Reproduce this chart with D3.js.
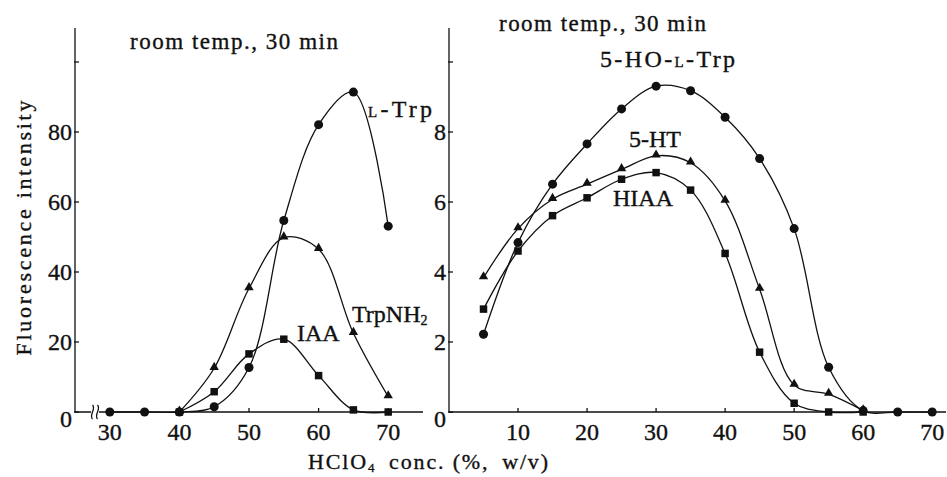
<!DOCTYPE html>
<html>
<head>
<meta charset="utf-8">
<script src="https://cdn.jsdelivr.net/npm/d3@7"></script>
<style>
    html, body { margin: 0; padding: 0; background: #fff; }
    svg { display: block; font-family: "Liberation Serif", "DejaVu Serif", serif; }
    svg text { fill: #111; stroke: #111; stroke-width: 0.35; }
    .line { fill: none; stroke: #111; stroke-width: 1.3; }
    .axis-line { stroke: #111; stroke-width: 1.3; fill: none; }
    .tick-label { font-size: 24px; }
    .note { font-size: 23px; }
    .series-label { font-size: 24px; }
    .axis-title { font-size: 22px; }
</style>
</head>
<body>
<div id="chart"></div>
<script>
/*
 * Left panel: HClO4 concentration (%, w/v) and fluorescence intensity.
 */
var leftConc       = [30, 35, 40, 45, 50, 55, 60, 65, 70];
var trpValues      = [0, 0, 0, 1.5, 12.7, 54.7, 82.1, 91.4, 53.1];
var trpnh2Conc     = [40, 45, 50, 55, 60, 65, 70];
var trpnh2Values   = [0, 12.5, 35.3, 49.8, 46.5, 22.5, 4.4];
var iaaConc        = [40, 45, 50, 55, 60, 65, 70];
var iaaValues      = [0, 5.8, 16.6, 20.8, 10.4, 0.6, 0];
var leftXTicks     = [30, 40, 50, 60, 70];
var leftYTicks     = [0, 20, 40, 60, 80, 100];

/*
 * Right panel.
 */
var rightConc      = [5, 10, 15, 20, 25, 30, 35, 40, 45, 50, 55, 60, 65, 70];
var hoTrpValues    = [2.22, 4.84, 6.51, 7.66, 8.66, 9.31, 9.18, 8.42, 7.24, 5.24, 1.28, 0.04, 0, 0];
var htConc         = [5, 10, 15, 20, 25, 30, 35, 40, 45, 50, 55, 60];
var htValues       = [3.84, 5.24, 6.08, 6.51, 6.93, 7.32, 7.12, 6.03, 3.51, 0.77, 0.51, 0.04];
var hiaaConc       = [5, 10, 15, 20, 25, 30, 35, 40, 45, 50, 55, 60];
var hiaaValues     = [2.94, 4.6, 5.61, 6.12, 6.65, 6.84, 6.34, 4.53, 1.71, 0.25, 0, 0];
var rightXTicks    = [10, 20, 30, 40, 50, 60, 70];
var rightYTicks    = [0, 2, 4, 6, 8, 10];

var width  = 947;
var height = 477;

var svg = d3.select('#chart').append('svg')
    .attr('width', width)
    .attr('height', height);

/*
 * Scales.
 */
var leftX  = d3.scaleLinear().domain([25, 75]).range([75, 423]);
var leftY  = d3.scaleLinear().domain([0, 100]).range([412, 62]);
var rightX = d3.scaleLinear().domain([0, 72]).range([449, 946]);
var rightY = d3.scaleLinear().domain([0, 10]).range([412, 62]);

var axisTop = 28;

/**
 * Draw one panel's frame: y axis, x axis, ticks and labels.
 */
function drawFrame(x, y, xTicks, yTicks, showBreak) {
    var g = svg.append('g');
    var x0 = x.range()[0];
    var y0 = y(0);
    /*
     * Axis lines.
     */
    g.append('path')
        .attr('class', 'axis-line')
        .attr('d', 'M' + x0 + ',' + axisTop + 'V' + y0 + 'H' + x.range()[1]);
    /*
     * Y ticks, the top one has no label.
     */
    yTicks.forEach(function(v, i) {
        g.append('line')
            .attr('class', 'axis-line')
            .attr('x1', x0 - 1).attr('x2', x0 + 4)
            .attr('y1', y(v)).attr('y2', y(v));
        if (i === yTicks.length - 1) return;
        g.append('text')
            .attr('class', 'tick-label')
            .attr('x', x0 - 3)
            .attr('y', v === 0 ? y(v) + 15 : y(v) + 8)
            .attr('text-anchor', 'end')
            .text(v);
    });
    /*
     * X ticks.
     */
    xTicks.forEach(function(v) {
        g.append('line')
            .attr('class', 'axis-line')
            .attr('x1', x(v)).attr('x2', x(v))
            .attr('y1', y0).attr('y2', y0 - 4);
        g.append('text')
            .attr('class', 'tick-label')
            .attr('x', x(v))
            .attr('y', 440)
            .attr('text-anchor', 'middle')
            .text(v);
    });
    /*
     * Axis break mark.
     */
    if (showBreak) {
        var bx = x0 + 20;
        g.append('rect')
            .attr('x', bx - 4).attr('y', y0 - 3)
            .attr('width', 8).attr('height', 6)
            .attr('fill', '#fff');
        [-2.5, 2.5].forEach(function(dx) {
            g.append('path')
                .attr('class', 'axis-line')
                .attr('stroke-width', 1)
                .attr('d', 'M' + (bx + dx) + ',' + (y0 - 7) +
                    'C' + (bx + dx + 4) + ',' + (y0 - 3) + ' ' +
                    (bx + dx - 4) + ',' + (y0 + 3) + ' ' +
                    (bx + dx) + ',' + (y0 + 7));
        });
    }
}

drawFrame(leftX, leftY, leftXTicks, leftYTicks, true);
drawFrame(rightX, rightY, rightXTicks, rightYTicks, false);

/**
 * Draw one series: smooth curve plus markers.
 */
function drawSeries(x, y, xs, ys, symbol, size) {
    var data = xs.map(function(d, i) { return { x: d, y: ys[i] }; });
    var line = d3.line()
        .x(function(d) { return x(d.x); })
        .y(function(d) { return y(d.y); })
        .curve(d3.curveCatmullRom.alpha(0.5));
    svg.append('path')
        .attr('class', 'line')
        .attr('d', line(data));
    svg.append('g').selectAll('path')
        .data(data)
        .enter().append('path')
        .attr('transform', function(d) {
            var dy = symbol === d3.symbolTriangle ? -1 : 0;
            return 'translate(' + x(d.x) + ',' + (y(d.y) + dy) + ')';
        })
        .attr('d', d3.symbol().type(symbol).size(size))
        .attr('fill', '#111');
}

drawSeries(leftX, leftY, trpnh2Conc, trpnh2Values, d3.symbolTriangle, 38);
drawSeries(leftX, leftY, iaaConc, iaaValues, d3.symbolSquare, 56);
drawSeries(leftX, leftY, leftConc, trpValues, d3.symbolCircle, 64);

drawSeries(rightX, rightY, htConc, htValues, d3.symbolTriangle, 38);
drawSeries(rightX, rightY, hiaaConc, hiaaValues, d3.symbolSquare, 56);
drawSeries(rightX, rightY, rightConc, hoTrpValues, d3.symbolCircle, 64);

/*
 * Condition notes.
 */
svg.append('text').attr('class', 'note')
    .attr('x', 130).attr('y', 49)
    .attr('textLength', 208).attr('lengthAdjust', 'spacing')
    .text('room temp., 30 min');
svg.append('text').attr('class', 'note')
    .attr('x', 499).attr('y', 31)
    .attr('textLength', 207).attr('lengthAdjust', 'spacing')
    .text('room temp., 30 min');

/*
 * Series labels. The small-capital L is drawn smaller.
 */
function smallCapLabel(x, y, before, after, width) {
    var t = svg.append('text').attr('class', 'series-label')
        .attr('x', x).attr('y', y)
        .attr('textLength', width).attr('lengthAdjust', 'spacing');
    if (before) t.append('tspan').text(before);
    t.append('tspan').attr('font-size', 15).text('L');
    t.append('tspan').text(after);
}
smallCapLabel(368, 117, null, '-Trp', 64);
smallCapLabel(600, 67, '5-HO-', '-Trp', 135);

var trpnh2Label = svg.append('text').attr('class', 'series-label')
    .attr('x', 352).attr('y', 322);
trpnh2Label.append('tspan').text('TrpNH');
trpnh2Label.append('tspan').attr('font-size', 14).attr('dy', 3).text('2');

svg.append('text').attr('class', 'series-label')
    .attr('x', 297).attr('y', 341).text('IAA');
svg.append('text').attr('class', 'series-label')
    .attr('x', 629).attr('y', 147).text('5-HT');
svg.append('text').attr('class', 'series-label')
    .attr('x', 613).attr('y', 206).text('HIAA');

/*
 * Axis titles.
 */
svg.append('text').attr('class', 'axis-title')
    .attr('transform', 'translate(31,228) rotate(-90)')
    .attr('text-anchor', 'middle')
    .attr('textLength', 255).attr('lengthAdjust', 'spacing')
    .text('Fluorescence intensity');

var xTitle = svg.append('text').attr('class', 'axis-title')
    .attr('x', 308).attr('y', 469)
    .attr('textLength', 240).attr('lengthAdjust', 'spacing');
xTitle.append('tspan').text('HClO');
xTitle.append('tspan').attr('font-size', 13).attr('dy', 3).text('4');
xTitle.append('tspan').attr('dy', -3).text('\u2002conc. (%,\u2002w/v)');
</script>
</body>
</html>
